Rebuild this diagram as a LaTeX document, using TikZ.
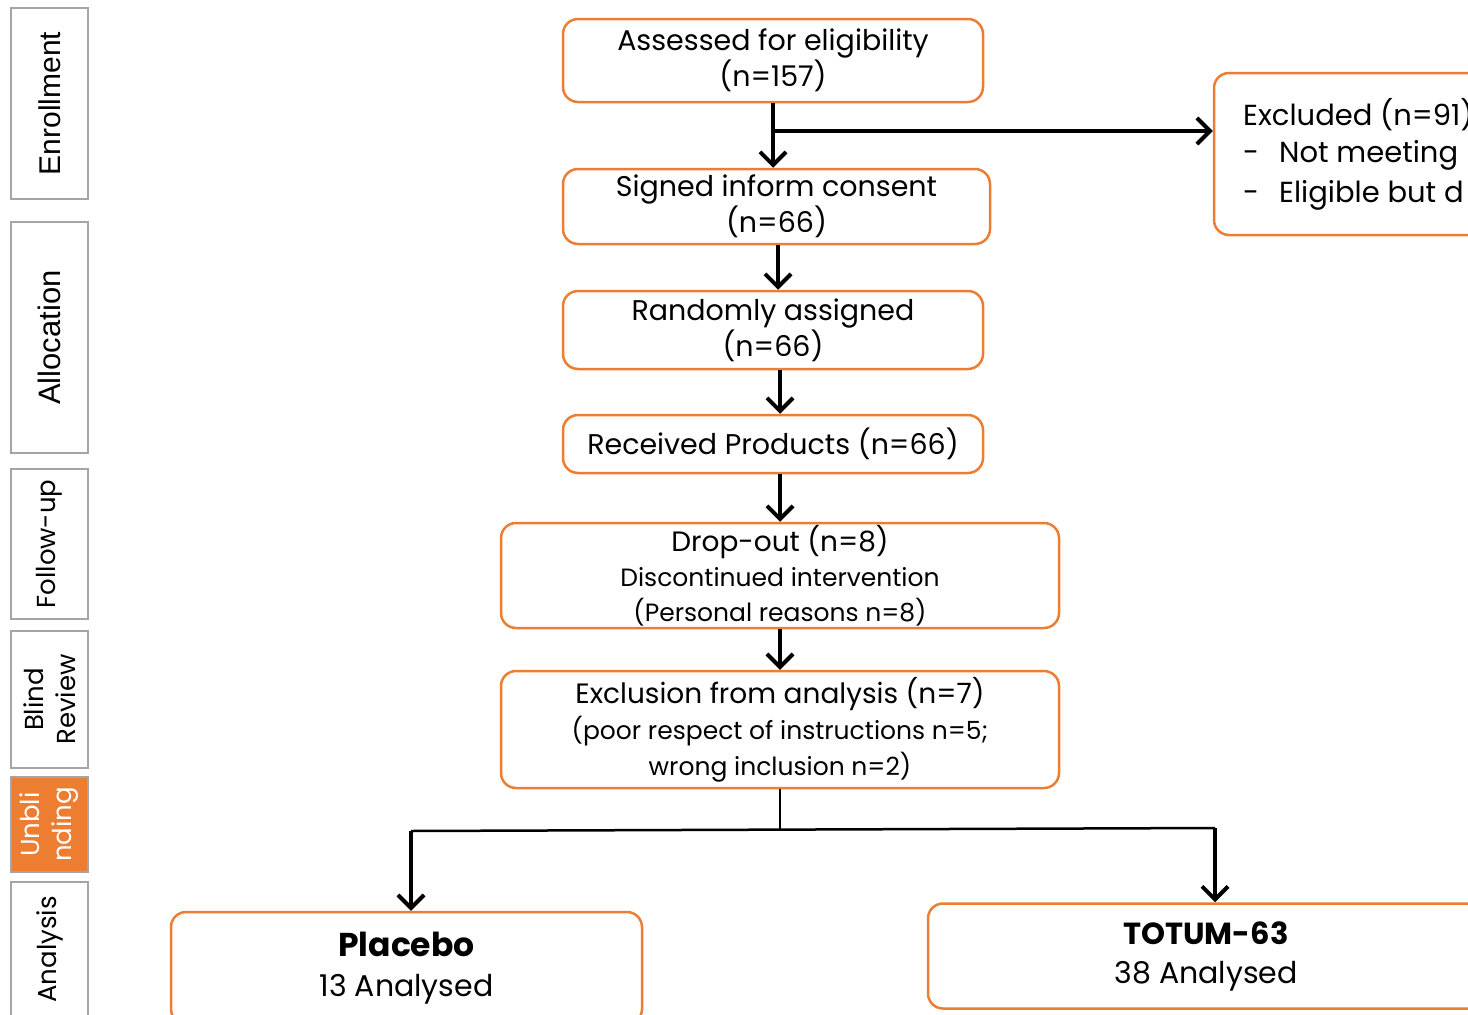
\documentclass[tikz,border=0pt]{standalone}
\usepackage{fontspec}
\setmainfont{Poppins}
\newfontfamily\arialf{Liberation Sans}
\usetikzlibrary{arrows.meta}
\definecolor{orng}{HTML}{ED7D31}
\definecolor{lgray}{HTML}{A5A5A5}
\begin{document}
\begin{tikzpicture}[x=1pt,y=-1pt,
  box/.style={draw=orng, line width=2.5pt, rounded corners=15pt, align=center, inner sep=0pt, font=\fontsize{28.5}{36}\selectfont},
  side/.style={draw=lgray, line width=2.5pt, inner sep=0pt, rotate=90, align=center, font=\fontsize{26}{32}\selectfont},
  arr/.style={line width=4pt, -{Straight Barb[length=13pt,width=26pt]}},
  thinline/.style={line width=2.5pt},
  txt/.style={anchor=base west, inner sep=0pt, font=\fontsize{29}{34}\selectfont}
]
\useasboundingbox (0,0) rectangle (1468,1015);
\clip (0,0) rectangle (1468,1015);

% side labels
\node[side, minimum width=191pt, minimum height=77pt, font=\fontsize{30}{32}\selectfont] (enr) at (49.5,103.5) {\arialf Enrollment};
\node[side, minimum width=231pt, minimum height=77pt, font=\fontsize{31}{32}\selectfont] (all) at (49.5,337.5) {\arialf Allocation};
\node[side, minimum width=150pt, minimum height=77pt] (fol) at (49.5,544) {Follow-up};
\node[side, minimum width=137pt, minimum height=77pt] (bli) at (49.5,699.5) {Blind\\Review};
\node[side, fill=orng, text=white, minimum width=95pt, minimum height=77pt] (unb) at (49.5,824.5) {Unbli\\nding};
\node[side, minimum width=135pt, minimum height=77pt] (ana) at (49.5,949.5) {Analysis};

% main boxes
\node[box, minimum width=420pt, minimum height=83pt] (A) at (773,60.5) {Assessed for eligibility\\(n=157)};
\node[box, minimum width=427pt, minimum height=75pt] (S) at (776.5,206.5) {Signed inform consent\\(n=66)};
\node[box, minimum width=420pt, minimum height=78pt] (R) at (773,330) {Randomly assigned\\(n=66)};
\node[box, minimum width=420pt, minimum height=58pt] (P) at (773,444) {Received Products (n=66)};
\node[box, minimum width=558pt, minimum height=105pt, font=\fontsize{25}{35}\selectfont] (D) at (780,575.5) {{\fontsize{28}{35}\selectfont Drop-out (n=8)}\\Discontinued intervention\\(Personal reasons n=8)};
\node[box, minimum width=558pt, minimum height=117pt, font=\fontsize{25}{36}\selectfont] (E) at (780,729.5) {{\fontsize{28}{36}\selectfont Exclusion from analysis (n=7)}\\(poor respect of instructions n=5;\\wrong inclusion n=2)};
\node[box, minimum width=346pt, minimum height=162pt] (X) at (1387,154) {};
\node[box, minimum width=471pt, minimum height=112pt, font=\fontsize{30}{40}\selectfont] (Pl) at (406.5,968) {{\bfseries\fontsize{33}{40}\selectfont Placebo}\\13 Analysed};
\node[box, minimum width=556pt, minimum height=105pt, font=\fontsize{30}{39}\selectfont] (T) at (1206,956) {{\bfseries\fontsize{30.5}{39}\selectfont TOTUM-63}\\38 Analysed};

% excluded text
\node[txt] (x1) at (1243,125) {Excluded (n=91)};
\node[txt] (x2d) at (1243,162) {-};
\node[txt] (x2) at (1279,162) {Not meeting};
\node[txt] (x3d) at (1243,202) {-};
\node[txt] (x3) at (1279,202) {Eligible but d};

% connectors
\draw[arr] (A.south) -- (A.south |- S.north);
\coordinate (br) at (773,131);
\draw[arr] (br) -- (br -| X.west);
\draw[arr] ([xshift=1.5pt]S.south) -- ([xshift=1.5pt]S.south |- R.north);
\draw[arr] ([xshift=7pt]R.south) -- ([xshift=7pt]R.south |- P.north);
\draw[arr] (P.south -| D.north) -- (D.north);
\draw[arr] (D.south) -- (E.north);
\coordinate (sl) at (411,831);
\coordinate (sr) at (1215,828);
\coordinate (sm) at (780,829.6);
\draw[thinline] (E.south) -- (sm);
\draw[thinline] (sl) -- (sr);
\draw[arr] (sl) -- (sl |- Pl.north);
\draw[arr] (sr) -- (sr |- T.north);
\end{tikzpicture}
\end{document}
